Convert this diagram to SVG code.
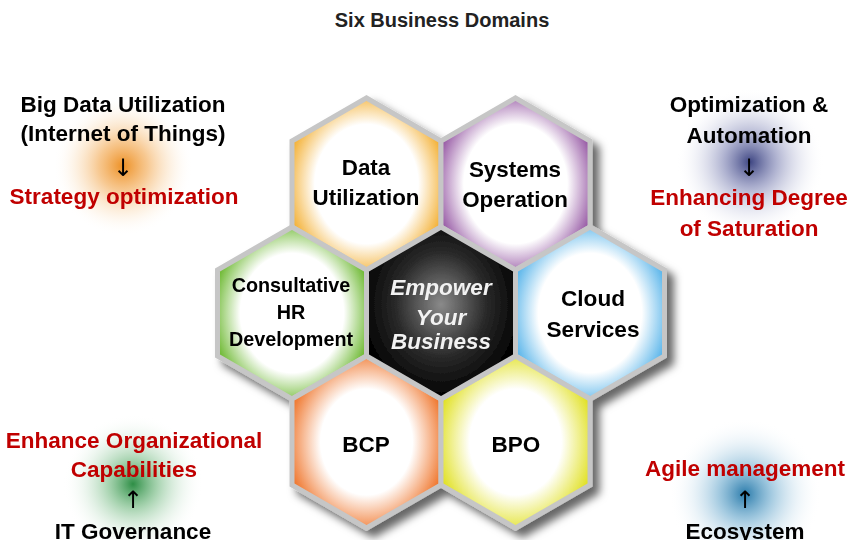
<svg xmlns="http://www.w3.org/2000/svg" width="849" height="540" viewBox="0 0 849 540">
<style>
.t{font-family:"Liberation Sans",Arial,sans-serif;font-weight:bold;text-anchor:middle}
.blk{fill:#000}
.red{fill:#c00000}
.arr{font-family:"DejaVu Sans",sans-serif;font-weight:normal;text-anchor:middle;fill:#000;font-size:24px}
.hx{stroke:#c6c6c6;stroke-width:5;stroke-linejoin:miter}
.ht{font-family:"Liberation Sans",Arial,sans-serif;font-weight:bold;text-anchor:middle;fill:#000}
.emp{font-family:"Liberation Sans",Arial,sans-serif;font-weight:bold;font-style:italic;text-anchor:middle;fill:#f2f2f2;font-size:22.5px}
</style>
<defs>
<polygon id="hex" points="0,-86 74.5,-43 74.5,43 0,86 -74.5,43 -74.5,-43"/>
<filter id="sh" x="-20%" y="-20%" width="150%" height="150%">
<feDropShadow dx="7" dy="7" stdDeviation="4" flood-color="#000" flood-opacity="0.6"/>
</filter>
<radialGradient id="gData" r="56%"><stop offset="0.62" stop-color="#fff"/><stop offset="1" stop-color="#f2a922"/></radialGradient>
<radialGradient id="gSys" r="56%"><stop offset="0.62" stop-color="#fff"/><stop offset="1" stop-color="#8d4a9c"/></radialGradient>
<radialGradient id="gHR" r="56%"><stop offset="0.62" stop-color="#fff"/><stop offset="1" stop-color="#5fb21e"/></radialGradient>
<radialGradient id="gCloud" r="56%"><stop offset="0.62" stop-color="#fff"/><stop offset="1" stop-color="#4aaee8"/></radialGradient>
<radialGradient id="gBCP" r="56%"><stop offset="0.55" stop-color="#fff"/><stop offset="1" stop-color="#ee6a1a"/></radialGradient>
<radialGradient id="gBPO" r="56%"><stop offset="0.55" stop-color="#fff"/><stop offset="1" stop-color="#dede10"/></radialGradient>
<radialGradient id="gEmp" cx="50%" cy="45%" r="55%"><stop offset="0" stop-color="#8a8a8a"/><stop offset="0.55" stop-color="#2a2a2a"/><stop offset="1" stop-color="#000"/></radialGradient>
<radialGradient id="glO"><stop offset="0" stop-color="#ec8a18" stop-opacity="0.95"/><stop offset="0.35" stop-color="#f2a448" stop-opacity="0.6"/><stop offset="0.7" stop-color="#f8cf9c" stop-opacity="0.25"/><stop offset="1" stop-color="#fff" stop-opacity="0"/></radialGradient>
<radialGradient id="glN"><stop offset="0" stop-color="#343c7c" stop-opacity="0.95"/><stop offset="0.35" stop-color="#6a70a8" stop-opacity="0.55"/><stop offset="0.7" stop-color="#b8bcd8" stop-opacity="0.25"/><stop offset="1" stop-color="#fff" stop-opacity="0"/></radialGradient>
<radialGradient id="glG"><stop offset="0" stop-color="#23883c" stop-opacity="0.95"/><stop offset="0.35" stop-color="#60b070" stop-opacity="0.55"/><stop offset="0.7" stop-color="#b8dcc0" stop-opacity="0.25"/><stop offset="1" stop-color="#fff" stop-opacity="0"/></radialGradient>
<radialGradient id="glB"><stop offset="0" stop-color="#1f74a6" stop-opacity="0.95"/><stop offset="0.35" stop-color="#5aa0c8" stop-opacity="0.55"/><stop offset="0.7" stop-color="#b8d6e8" stop-opacity="0.25"/><stop offset="1" stop-color="#fff" stop-opacity="0"/></radialGradient>
</defs>
<rect width="849" height="540" fill="#fff"/>
<text class="t" x="442" y="27" font-size="20" fill="#222">Six Business Domains</text>

<g id="glows">
<circle cx="123" cy="166" r="70" fill="url(#glO)"/>
<circle cx="750" cy="162" r="74" fill="url(#glN)"/>
<circle cx="133" cy="484" r="70" fill="url(#glG)"/>
<circle cx="745" cy="494" r="76" fill="url(#glB)"/>
</g>

<g id="hexagons" filter="url(#sh)">
<g id="data" transform="translate(366.5,184)"><use href="#hex" class="hx" fill="url(#gData)"/></g>
<g id="systems" transform="translate(515.5,184)"><use href="#hex" class="hx" fill="url(#gSys)"/></g>
<g id="hr" transform="translate(292,313)"><use href="#hex" class="hx" fill="url(#gHR)"/></g>
<g id="cloud" transform="translate(590,313)"><use href="#hex" class="hx" fill="url(#gCloud)"/></g>
<g id="bcp" transform="translate(366.5,442)"><use href="#hex" class="hx" fill="url(#gBCP)"/></g>
<g id="bpo" transform="translate(515.5,442)"><use href="#hex" class="hx" fill="url(#gBPO)"/></g>
<g id="center" transform="translate(441,313)"><use href="#hex" class="hx" fill="url(#gEmp)"/></g>
</g>

<g id="hex-labels">
<text class="ht" font-size="22.4"><tspan x="366" y="175">Data</tspan><tspan x="366" y="205">Utilization</tspan></text>
<text class="ht" font-size="22.4"><tspan x="515" y="177">Systems</tspan><tspan x="515" y="207">Operation</tspan></text>
<text class="ht" font-size="19.8"><tspan x="291" y="292">Consultative</tspan><tspan x="291" y="319">HR</tspan><tspan x="291" y="346">Development</tspan></text>
<text class="ht" font-size="22.6"><tspan x="593" y="306">Cloud</tspan><tspan x="593" y="337">Services</tspan></text>
<text class="ht" font-size="22.5" x="366" y="452">BCP</text>
<text class="ht" font-size="22.5" x="516" y="452">BPO</text>
<text class="emp"><tspan x="441" y="295">Empower</tspan><tspan x="441" y="325">Your</tspan><tspan x="441" y="349">Business</tspan></text>
</g>

<g id="note-tl">
<text class="t blk" font-size="22.5"><tspan x="123" y="112">Big Data Utilization</tspan><tspan x="123" y="141">(Internet of Things)</tspan></text>
<text class="arr" x="123" y="176">↓</text>
<text class="t red" font-size="22.5" x="124" y="204">Strategy optimization</text>
</g>
<g id="note-tr">
<text class="t blk" font-size="22.5"><tspan x="749" y="112">Optimization &amp;</tspan><tspan x="749" y="143">Automation</tspan></text>
<text class="arr" x="749" y="176">↓</text>
<text class="t red" font-size="22.5"><tspan x="749" y="205">Enhancing Degree</tspan><tspan x="749" y="236">of Saturation</tspan></text>
</g>
<g id="note-bl">
<text class="t red" font-size="22.5"><tspan x="134" y="448">Enhance Organizational</tspan><tspan x="134" y="477">Capabilities</tspan></text>
<text class="arr" x="133" y="508">↑</text>
<text class="t blk" font-size="22.5" x="133" y="539">IT Governance</text>
</g>
<g id="note-br">
<text class="t red" font-size="22.5" x="745" y="476">Agile management</text>
<text class="arr" x="745" y="508">↑</text>
<text class="t blk" font-size="22.5" x="745" y="539">Ecosystem</text>
</g>
</svg>
